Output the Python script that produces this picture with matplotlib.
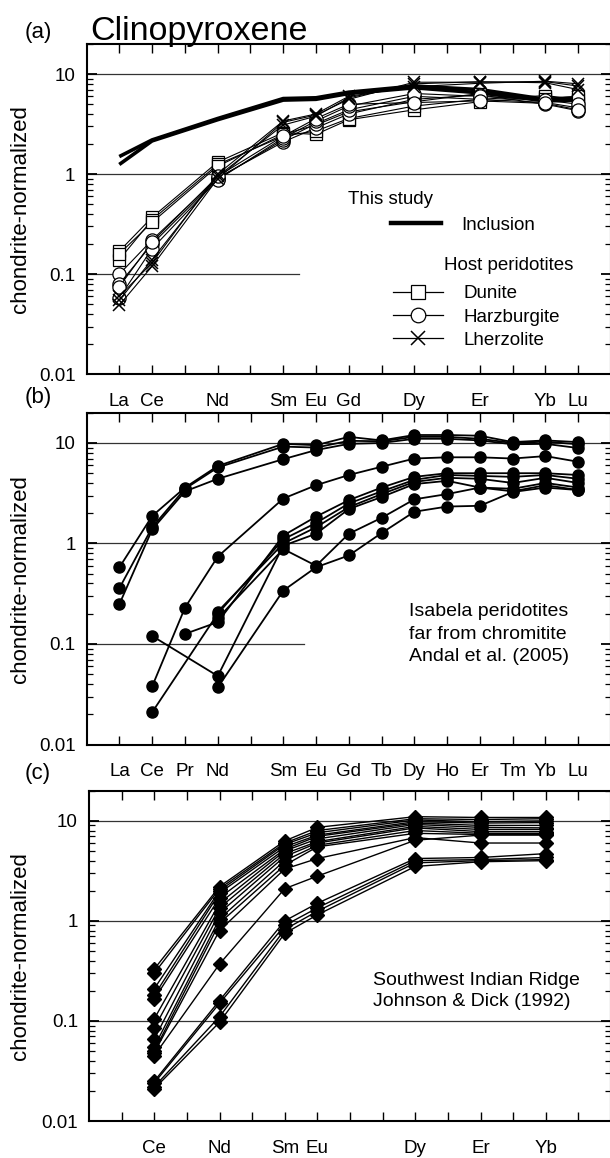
import matplotlib.pyplot as plt
import numpy as np
from matplotlib.ticker import FixedLocator, LogLocator, NullFormatter

plt.rcParams['font.family'] = ['Liberation Sans', 'DejaVu Sans']

ree = ['La', 'Ce', 'Pr', 'Nd', 'Pm', 'Sm', 'Eu', 'Gd', 'Tb', 'Dy', 'Ho', 'Er', 'Tm', 'Yb', 'Lu']

# (a) clinopyroxene, this study + host peridotites
a_elem = ['La', 'Ce', 'Nd', 'Sm', 'Eu', 'Gd', 'Dy', 'Er', 'Yb', 'Lu']
inclusion = [
    [1.50, 2.20, 3.60, 5.70, 5.80, 6.60, 7.60, 7.00, 5.60, 5.80],
    [1.25, 2.15, 3.50, 5.50, 5.60, 6.40, 7.30, 6.50, 5.40, 5.50],
]
dunite = [
    [0.170, 0.37, 1.32, 2.60, 2.50, 3.50, 4.40, 5.30, 5.90, 5.20],
    [0.140, 0.35, 1.25, 2.40, 2.70, 3.60, 4.80, 5.60, 6.10, 5.60],
    [0.160, 0.33, 1.20, 2.50, 3.10, 4.20, 5.30, 6.40, 5.70, 6.00],
]
harzburgite = [
    [0.100, 0.22, 0.92, 2.10, 2.90, 4.00, 5.60, 6.20, 5.00, 4.30],
    [0.080, 0.20, 0.90, 2.20, 3.20, 4.40, 6.00, 5.60, 5.20, 4.60],
    [0.058, 0.18, 0.88, 2.30, 3.40, 4.80, 6.40, 6.00, 5.50, 5.00],
    [0.075, 0.21, 0.95, 2.40, 3.60, 5.00, 5.20, 5.40, 5.10, 4.40],
]
lherzolite = [
    [0.049, 0.12, 0.90, 3.30, 3.90, 5.60, 8.30, 8.30, 8.40, 7.60],
    [0.055, 0.14, 0.95, 3.10, 3.80, 5.80, 8.00, 8.40, 8.20, 7.00],
    [0.060, 0.13, 1.00, 3.40, 4.00, 6.00, 7.50, 8.10, 8.50, 8.00],
]

# (b) Isabela peridotites (Andal et al. 2005)
nan = np.nan
b_elem = ['La', 'Ce', 'Pr', 'Nd', 'Sm', 'Eu', 'Gd', 'Tb', 'Dy', 'Ho', 'Er', 'Tm', 'Yb', 'Lu']
isabela = [
    [0.58, 1.88, 3.60, 5.90, 9.80, 9.50, 11.5, 10.6, 12.0, 12.0, 11.8, 10.2, 10.6, 10.2],
    [0.36, 1.45, 3.50, 5.70, 9.20, 9.00, 10.5, 10.4, 11.5, 11.5, 11.0, 10.0, 10.3, 9.70],
    [0.25, 1.38, 3.30, 4.40, 6.90, 8.50, 9.80, 10.0, 11.0, 11.0, 10.6, 9.70, 9.80, 8.90],
    [nan, 0.038, 0.23, 0.74, 2.80, 3.80, 4.80, 5.80, 7.00, 7.20, 7.20, 7.00, 7.40, 6.50],
    [nan, nan, 0.126, 0.165, 1.20, 1.85, 2.70, 3.60, 4.60, 5.00, 5.00, 5.00, 5.00, 4.80],
    [nan, 0.021, nan, 0.20, 1.10, 1.60, 2.50, 3.30, 4.30, 4.80, 4.70, 4.60, 4.80, 4.40],
    [nan, nan, nan, 0.21, 1.00, 1.45, 2.30, 3.10, 4.10, 4.50, 4.40, 4.00, 4.50, 4.00],
    [nan, 0.12, nan, 0.048, 0.95, 1.25, 2.20, 2.90, 3.90, 4.20, 3.60, 3.50, 4.00, 3.60],
    [nan, nan, nan, 0.18, 0.88, 0.60, 1.25, 1.80, 2.75, 3.10, 3.60, 3.30, 3.80, 3.40],
    [nan, nan, nan, 0.037, 0.34, 0.58, 0.76, 1.27, 2.07, 2.33, 2.37, 3.25, 3.60, 3.40],
]

# (c) Southwest Indian Ridge (Johnson & Dick 1992)
c_elem = ['Ce', 'Nd', 'Sm', 'Eu', 'Dy', 'Er', 'Yb']
swir = [
    [0.330, 2.20, 6.30, 8.60, 11.0, 10.8, 10.8],
    [0.300, 2.10, 6.00, 8.00, 10.5, 10.3, 10.5],
    [0.210, 2.00, 5.80, 7.60, 10.2, 9.80, 10.0],
    [0.180, 1.90, 5.50, 7.20, 9.80, 9.50, 9.60],
    [0.165, 1.70, 5.20, 7.00, 9.50, 9.00, 9.00],
    [0.105, 1.50, 5.00, 6.60, 9.20, 8.60, 8.50],
    [0.085, 1.35, 4.70, 6.20, 8.80, 8.20, 8.20],
    [0.066, 1.20, 4.40, 6.00, 8.50, 7.80, 7.80],
    [0.055, 1.05, 4.00, 5.70, 8.00, 7.50, 7.50],
    [0.050, 0.95, 3.60, 5.50, 7.50, 7.30, 7.30],
    [0.048, 0.80, 3.30, 4.20, 6.80, 6.00, 6.00],
    [0.045, 0.37, 2.10, 2.80, 6.40, 7.20, 7.20],
    [0.025, 0.16, 1.00, 1.50, 4.20, 4.30, 4.70],
    [0.024, 0.15, 0.90, 1.35, 4.00, 4.10, 4.30],
    [0.022, 0.11, 0.82, 1.25, 3.80, 4.00, 4.10],
    [0.021, 0.097, 0.75, 1.15, 3.50, 3.90, 4.00],
]

FS = 13.5
W, H = 610, 1158


def xs(elems):
    return np.array([ree.index(e) + 1 for e in elems])


def setup(ax, labels):
    ax.set_yscale('log')
    ax.set_xlim(0, 16)
    ax.set_ylim(0.01, 20)
    ax.set_xticks(np.arange(1, 16))
    ax.set_xticklabels([e if e in labels else '' for e in ree])
    ax.yaxis.set_major_locator(FixedLocator([0.01, 0.1, 1, 10]))
    ax.set_yticklabels(['0.01', '0.1', '1', '10'])
    ax.yaxis.set_minor_locator(LogLocator(base=10, subs=np.arange(2, 10)))
    ax.yaxis.set_minor_formatter(NullFormatter())
    ax.tick_params(axis='x', which='major', direction='in', top=True, bottom=True,
                   length=6.3, width=1.0, pad=13.5, labelsize=FS)
    ax.tick_params(axis='y', which='major', direction='in', left=True, right=True,
                   length=7, width=1.3, pad=8, labelsize=FS)
    ax.tick_params(axis='y', which='minor', direction='in', left=True, right=True,
                   length=4, width=0.9)
    for s in ax.spines.values():
        s.set_linewidth(1.5)
    ax.axhline(10, color='0.2', lw=0.9, zorder=1)
    ax.axhline(1, color='0.2', lw=0.9, zorder=1)
    ax.set_ylabel('chondrite-normalized', fontsize=16)


def axes_px(left, top, bottom, right=611):
    return fig.add_axes([left / W, 1 - bottom / H, (right - left) / W, (bottom - top) / H])


fig = plt.figure(figsize=(W / 100, H / 100), dpi=100)

# ---- (a)
ax = axes_px(86.5, 44, 374.3)
setup(ax, a_elem)
ax.axhline(0.1, xmax=0.406, color='0.2', lw=0.9, zorder=1)
xa = xs(a_elem)
for y in inclusion:
    ax.plot(xa, y, color='black', lw=2.6, zorder=2, solid_capstyle='butt')
for y in dunite:
    ax.plot(xa, y, color='black', lw=0.8, marker='s', ms=9, mfc='white', mec='black', mew=0.9, zorder=3)
for y in harzburgite:
    ax.plot(xa, y, color='black', lw=0.8, marker='o', ms=9.5, mfc='white', mec='black', mew=0.9, zorder=3)
for y in lherzolite:
    ax.plot(xa, y, color='black', lw=0.8, marker='x', ms=9, mec='black', mew=1.1, zorder=3)
ax.yaxis.set_label_coords(-0.106, 0.5)

h_inc, = ax.plot([], [], color='black', lw=3.2)
h_dun, = ax.plot([], [], color='black', lw=0.9, marker='s', ms=10, mfc='white', mec='black', mew=0.9)
h_har, = ax.plot([], [], color='black', lw=0.9, marker='o', ms=10.5, mfc='white', mec='black', mew=0.9)
h_lhz, = ax.plot([], [], color='black', lw=0.9, marker='x', ms=10, mec='black', mew=1.1)
leg1 = ax.legend([h_inc], ['Inclusion'], loc='center left', bbox_to_anchor=(0.58, 0.452),
                 frameon=False, fontsize=FS, handlelength=2.67, handletextpad=1.1,
                 borderpad=0, borderaxespad=0)
ax.add_artist(leg1)
ax.legend([h_dun, h_har, h_lhz], ['Dunite', 'Harzburgite', 'Lherzolite'], loc='center left',
          bbox_to_anchor=(0.584, 0.173), frameon=False, fontsize=FS, handlelength=2.67,
          handletextpad=1.1, labelspacing=0.33, borderpad=0, borderaxespad=0)
ax.text(0.4995, 0.5307, 'This study', transform=ax.transAxes, fontsize=FS, ha='left', va='center')
ax.text(0.682, 0.3279, 'Host peridotites', transform=ax.transAxes, fontsize=FS, ha='left', va='center')

fig.text(25 / W, 1 - 38 / H, '(a)', fontsize=16, ha='left', va='baseline')
fig.text(90 / W, 1 - 40 / H, 'Clinopyroxene', fontsize=24.5, ha='left', va='baseline')

# ---- (b)
ax = axes_px(86.7, 412.7, 744.5)
setup(ax, b_elem)
ax.axhline(0.1, xmax=0.414, color='0.2', lw=0.9, zorder=1)
xb = xs(b_elem)
for y in isabela:
    y = np.array(y)
    m = ~np.isnan(y)
    ax.plot(xb[m], y[m], color='black', lw=1.3, marker='o', ms=8, mfc='black', mec='black', zorder=3)
ax.yaxis.set_label_coords(-0.106, 0.5)
ax.text(0.6148, 0.333, 'Isabela peridotites\nfar from chromitite\nAndal et al. (2005)',
        transform=ax.transAxes, fontsize=14, ha='left', va='center', linespacing=1.42)
fig.text(25 / W, 1 - 398 / H, '(b)', fontsize=16, ha='left', va='center')

# ---- (c)
ax = axes_px(89, 790.7, 1121)
setup(ax, c_elem)
ax.axhline(0.1, color='0.2', lw=0.9, zorder=1)
xc = xs(c_elem)
for y in swir:
    ax.plot(xc, y, color='black', lw=1.0, marker='D', ms=7.5, mfc='black', mec='black', zorder=3)
ax.yaxis.set_label_coords(-0.112, 0.5)
ax.text(0.5445, 0.394, 'Southwest Indian Ridge\nJohnson & Dick (1992)',
        transform=ax.transAxes, fontsize=14, ha='left', va='center', linespacing=1.26)
fig.text(25 / W, 1 - 773 / H, '(c)', fontsize=16, ha='left', va='center')

fig.savefig('out.png', dpi=100)
